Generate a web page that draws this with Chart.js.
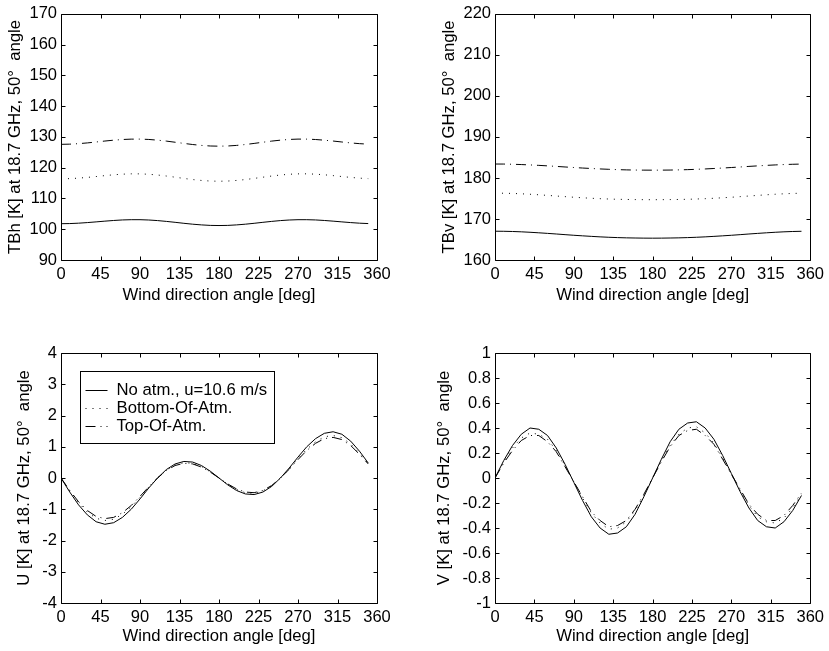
<!DOCTYPE html>
<html>
<head>
<meta charset="utf-8">
<script src="https://cdn.jsdelivr.net/npm/chart.js@4/dist/chart.umd.min.js"></script>
<style>
  html, body { margin: 0; padding: 0; background: #fff; }
  body { width: 829px; height: 651px; position: relative; overflow: hidden; }
  canvas { position: absolute; }
</style>
</head>
<body>
<canvas id="cTBh" width="414" height="310" style="left:0px;top:0px"></canvas>
<canvas id="cTBv" width="395" height="310" style="left:434px;top:0px"></canvas>
<canvas id="cU" width="414" height="321" style="left:0px;top:330px"></canvas>
<canvas id="cV" width="395" height="321" style="left:434px;top:330px"></canvas>
<script>
// ---------------- data ----------------
const angles = [0,10,20,30,40,50,60,70,80,90,100,110,120,130,140,150,160,170,180,190,200,210,220,230,240,250,260,270,280,290,300,310,320,330,340,350];
const xTickValues = [0,45,90,135,180,225,270,315,360];
const seriesLabels = ['No atm., u=10.6 m/s', 'Bottom-Of-Atm.', 'Top-Of-Atm.'];

const tbhNoAtm = [101.80,101.84,101.97,102.16,102.39,102.63,102.85,103.02,103.10,103.10,103.00,102.81,102.55,102.25,101.93,101.64,101.41,101.25,101.20,101.25,101.41,101.64,101.93,102.25,102.55,102.81,103.00,103.10,103.10,103.02,102.85,102.63,102.39,102.16,101.97,101.84];
const tbhBOA   = [116.40,116.45,116.61,116.85,117.13,117.43,117.70,117.90,118.01,118.00,117.87,117.63,117.30,116.92,116.52,116.15,115.86,115.67,115.60,115.67,115.86,116.15,116.52,116.92,117.30,117.63,117.87,118.00,118.01,117.90,117.70,117.43,117.13,116.85,116.61,116.45];
const tbhTOA   = [127.60,127.66,127.82,128.06,128.36,128.67,128.95,129.17,129.29,129.30,129.19,128.96,128.65,128.28,127.90,127.54,127.25,127.06,127.00,127.06,127.25,127.54,127.90,128.28,128.65,128.96,129.19,129.30,129.29,129.17,128.95,128.67,128.36,128.06,127.82,127.66];

const tbvNoAtm = [167.02,167.00,166.95,166.87,166.76,166.63,166.49,166.34,166.18,166.03,165.89,165.76,165.64,165.54,165.46,165.40,165.36,165.33,165.32,165.33,165.36,165.40,165.46,165.54,165.64,165.76,165.89,166.03,166.18,166.34,166.49,166.63,166.76,166.87,166.95,167.00];
const tbvBOA   = [176.30,176.28,176.23,176.14,176.03,175.90,175.75,175.60,175.45,175.30,175.17,175.05,174.95,174.87,174.80,174.76,174.73,174.71,174.70,174.71,174.73,174.76,174.80,174.87,174.95,175.05,175.17,175.30,175.45,175.60,175.75,175.90,176.03,176.14,176.23,176.28];
const tbvTOA   = [183.40,183.39,183.34,183.27,183.18,183.07,182.95,182.82,182.68,182.55,182.42,182.31,182.20,182.11,182.03,181.97,181.93,181.91,181.90,181.91,181.93,181.97,182.03,182.11,182.20,182.31,182.42,182.55,182.68,182.82,182.95,183.07,183.18,183.27,183.34,183.39];

const uNoAtm = [0,-0.45,-0.86,-1.18,-1.40,-1.48,-1.43,-1.26,-1.00,-0.67,-0.32,0.00,0.27,0.45,0.53,0.51,0.40,0.22,0,-0.22,-0.40,-0.51,-0.53,-0.45,-0.27,0.00,0.32,0.67,1.00,1.26,1.43,1.48,1.40,1.18,0.86,0.48];
const uBOA   = [0,-0.41,-0.79,-1.09,-1.29,-1.36,-1.32,-1.16,-0.92,-0.62,-0.29,0.00,0.25,0.41,0.49,0.47,0.37,0.20,0,-0.20,-0.37,-0.47,-0.49,-0.41,-0.25,0.00,0.29,0.62,0.92,1.16,1.32,1.36,1.29,1.09,0.79,0.46];
const uTOA   = [0,-0.40,-0.76,-1.04,-1.23,-1.30,-1.26,-1.11,-0.88,-0.59,-0.28,0.00,0.24,0.40,0.47,0.45,0.35,0.19,0,-0.19,-0.35,-0.45,-0.47,-0.40,-0.24,0.00,0.28,0.59,0.88,1.11,1.26,1.30,1.23,1.04,0.76,0.45];

const vNoAtm = [0,0.14,0.26,0.35,0.40,0.39,0.34,0.24,0.11,-0.035,-0.18,-0.31,-0.40,-0.45,-0.44,-0.39,-0.29,-0.15,0,0.15,0.29,0.39,0.44,0.45,0.40,0.31,0.18,0.035,-0.11,-0.24,-0.34,-0.39,-0.40,-0.35,-0.26,-0.14];
const vBOA   = [0,0.13,0.24,0.32,0.36,0.35,0.31,0.22,0.10,-0.03,-0.16,-0.28,-0.36,-0.41,-0.40,-0.35,-0.26,-0.14,0,0.14,0.26,0.35,0.40,0.41,0.36,0.28,0.16,0.03,-0.10,-0.22,-0.31,-0.35,-0.36,-0.32,-0.24,-0.13];
const vTOA   = [0,0.12,0.22,0.30,0.34,0.34,0.29,0.21,0.09,-0.03,-0.15,-0.27,-0.34,-0.39,-0.38,-0.34,-0.25,-0.13,0,0.13,0.25,0.34,0.38,0.39,0.34,0.27,0.15,0.03,-0.09,-0.21,-0.29,-0.34,-0.34,-0.30,-0.22,-0.12];

const tbhTicks = [90,100,110,120,130,140,150,160,170];
const tbvTicks = [160,170,180,190,200,210,220];
const uTicks = [-4,-3,-2,-1,0,1,2,3,4];
const vTicks = [-1,-0.8,-0.6,-0.4,-0.2,0,0.2,0.4,0.6,0.8,1];

const xTitle = 'Wind direction angle [deg]';
const yTitles = {
  tbh: 'TBh [K] at 18.7 GHz, 50°  angle',
  tbv: 'TBv [K] at 18.7 GHz, 50°  angle',
  u: 'U [K] at 18.7 GHz, 50°  angle',
  v: 'V [K] at 18.7 GHz, 50°  angle'
};

// ---------------- styles ----------------
const FONT_FAMILY = "'Liberation Sans', Arial, Helvetica, sans-serif";
Chart.defaults.font.family = FONT_FAMILY;
Chart.defaults.font.size = 16.5;
Chart.defaults.color = '#000';
const titleFont = { family: FONT_FAMILY, size: 16.7 };

const lineStyles = [
  { borderDash: [] },
  { borderDash: [1, 6] },
  { borderDash: [10, 5, 1, 5] }
];

function mkData(arrs) {
  return {
    datasets: arrs.map((arr, i) => ({
      label: seriesLabels[i],
      data: angles.map((a, k) => ({ x: a, y: arr[k] })),
      borderColor: '#000',
      borderWidth: 1,
      borderDash: lineStyles[i].borderDash,
      pointRadius: 0,
      tension: 0,
      fill: false
    }))
  };
}

// MATLAB-like frame with inward ticks
const framePlugin = {
  id: 'frame',
  afterDatasetsDraw(chart) {
    const { ctx, chartArea: ca, scales } = chart;
    const L = Math.round(ca.left) + 0.5, R = Math.round(ca.right) + 0.5;
    const T = Math.round(ca.top) + 0.5, B = Math.round(ca.bottom) + 0.5;
    ctx.save();
    ctx.strokeStyle = '#000';
    ctx.lineWidth = 1;
    ctx.setLineDash([]);
    ctx.beginPath();
    ctx.rect(L, T, R - L, B - T);
    ctx.stroke();
    const tl = 4;
    ctx.beginPath();
    scales.x.ticks.forEach(t => {
      const px = Math.round(scales.x.getPixelForValue(t.value)) + 0.5;
      ctx.moveTo(px, B); ctx.lineTo(px, B - tl);
      ctx.moveTo(px, T); ctx.lineTo(px, T + tl);
    });
    scales.y.ticks.forEach(t => {
      const py = Math.round(scales.y.getPixelForValue(t.value)) + 0.5;
      ctx.moveTo(L, py); ctx.lineTo(L + tl, py);
      ctx.moveTo(R, py); ctx.lineTo(R - tl, py);
    });
    ctx.stroke();
    ctx.restore();
  }
};

// boxed legend drawn inside the plot area (bottom-left panel)
const boxLegendPlugin = {
  id: 'boxLegend',
  afterDatasetsDraw(chart, args, opts) {
    if (!opts || !opts.show) return;
    const { ctx, chartArea: ca } = chart;
    const x0 = Math.round(ca.left) + 19.5, y0 = Math.round(ca.top) + 18.5;
    const w = 194, h = 72;
    ctx.save();
    ctx.fillStyle = '#fff';
    ctx.fillRect(x0, y0, w, h);
    ctx.strokeStyle = '#000';
    ctx.lineWidth = 1;
    ctx.setLineDash([]);
    ctx.strokeRect(x0, y0, w, h);
    ctx.font = "16.7px " + FONT_FAMILY;
    ctx.fillStyle = '#000';
    ctx.textBaseline = 'middle';
    ctx.textAlign = 'left';
    chart.data.datasets.forEach((ds, i) => {
      const yy = Math.round(y0 + 18 + i * 18) + 0.5;
      ctx.beginPath();
      ctx.setLineDash(ds.borderDash || []);
      ctx.moveTo(x0 + 5, yy);
      ctx.lineTo(x0 + 27, yy);
      ctx.stroke();
      ctx.setLineDash([]);
      ctx.fillText(ds.label, x0 + 36, yy);
    });
    ctx.restore();
  }
};

function makeChart(id, arrs, yTickVals, yTitle, opt) {
  const ymin = yTickVals[0], ymax = yTickVals[yTickVals.length - 1];
  return new Chart(document.getElementById(id), {
    type: 'line',
    data: mkData(arrs),
    plugins: [framePlugin, boxLegendPlugin],
    options: {
      responsive: false,
      animation: false,
      events: [],
      layout: { padding: { top: opt.padTop, right: opt.padRight, bottom: 0, left: 0 } },
      plugins: {
        legend: { display: false },
        tooltip: { enabled: false },
        boxLegend: { show: !!opt.legend }
      },
      scales: {
        x: {
          type: 'linear',
          min: 0, max: 360,
          afterBuildTicks: s => { s.ticks = xTickValues.map(v => ({ value: v })); },
          afterFit: s => { s.height = opt.xH; },
          grid: { display: false, drawTicks: false },
          border: { display: false },
          ticks: { padding: 5, maxRotation: 0, autoSkip: false, callback: v => String(v) },
          title: { display: true, text: xTitle, font: titleFont, padding: { top: 0, bottom: opt.xTitlePad } }
        },
        y: {
          type: 'linear',
          min: ymin, max: ymax,
          afterBuildTicks: s => { s.ticks = yTickVals.map(v => ({ value: v })); },
          afterFit: s => { s.width = 61; },
          grid: { display: false, drawTicks: false },
          border: { display: false },
          ticks: { padding: 4, autoSkip: false, callback: v => String(v) },
          title: { display: true, text: yTitle, font: titleFont, padding: { top: opt.yTitlePad, bottom: 0 } }
        }
      }
    }
  });
}

makeChart('cTBh', [tbhNoAtm, tbhBOA, tbhTOA], tbhTicks, yTitles.tbh,
  { padTop: 12, padRight: 37, xH: 50, xTitlePad: 5, yTitlePad: 5.7 });
makeChart('cTBv', [tbvNoAtm, tbvBOA, tbvTOA], tbvTicks, yTitles.tbv,
  { padTop: 12, padRight: 18, xH: 50, xTitlePad: 5, yTitlePad: 5 });
makeChart('cU', [uNoAtm, uBOA, uTOA], uTicks, yTitles.u,
  { padTop: 23, padRight: 37, xH: 48, xTitlePad: 4.3, yTitlePad: 14, legend: true });
makeChart('cV', [vNoAtm, vBOA, vTOA], vTicks, yTitles.v,
  { padTop: 23, padRight: 18, xH: 48, xTitlePad: 4.3, yTitlePad: 0 });
</script>
</body>
</html>
